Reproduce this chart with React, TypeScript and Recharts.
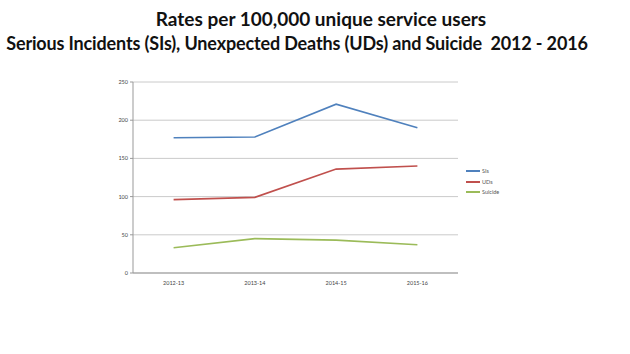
import { CartesianGrid, Line, LineChart, XAxis, YAxis } from "recharts";

const periods = ["2012-13", "2013-14", "2014-15", "2015-16"];
const sis = [177, 178, 221, 190];
const uds = [96, 99, 136, 140];
const suicide = [33, 45, 43, 37];
const yTicks = [0, 50, 100, 150, 200, 250];

const series = [
  { key: "SIs", color: "#4F81BD" },
  { key: "UDs", color: "#C0504D" },
  { key: "Suicide", color: "#9BBB59" },
];

const data = periods.map((period, i) => ({
  period,
  SIs: sis[i],
  UDs: uds[i],
  Suicide: suicide[i],
}));

function SmallLegend() {
  return (
    <div style={{ position: "absolute", left: 466, top: 166 }}>
      {series.map((s) => (
        <div key={s.key} style={{ display: "flex", alignItems: "center", height: 10.5 }}>
          <span style={{ display: "inline-block", width: 14, height: 1.6, background: s.color, marginRight: 2 }} />
          <span style={{ fontSize: 5.5, color: "#555" }}>{s.key}</span>
        </div>
      ))}
    </div>
  );
}

export default function App() {
  return (
    <div style={{ position: "fixed", left: 0, top: 0, width: 630, height: 354, background: "#fff", fontFamily: "Lato, 'Open Sans', sans-serif" }}>
      <div style={{ position: "absolute", top: 7, left: 0, width: 630, textAlign: "center", fontWeight: 700, fontSize: 18, lineHeight: "24px", color: "#111", whiteSpace: "nowrap" }}>
        <div style={{ paddingLeft: 12, fontSize: 19 }}>Rates per 100,000 unique service users</div>
        <div style={{ paddingRight: 36, letterSpacing: -0.15 }}>Serious Incidents (SIs), Unexpected Deaths (UDs) and Suicide&nbsp;&nbsp;2012 - 2016</div>
      </div>
      <div style={{ position: "absolute", left: 0, top: 0 }}>
        <LineChart width={630} height={354} data={data} margin={{ top: 82, right: 172, left: 113, bottom: 61 }}>
          <CartesianGrid vertical={false} stroke="#bdbdbd" strokeWidth={0.8} />
          <XAxis
            dataKey="period"
            height={20}
            padding={{ left: 40.6, right: 40.6 }}
            tick={{ fontSize: 5.5, fill: "#444" }}
            tickLine={false}
            axisLine={{ stroke: "#999" }}
          />
          <YAxis
            width={20}
            domain={[0, 250]}
            ticks={yTicks}
            tick={{ fontSize: 5.5, fill: "#444" }}
            tickSize={3}
            tickLine={{ stroke: "#999" }}
            axisLine={{ stroke: "#999" }}
          />
          {series.map((s) => (
            <Line key={s.key} dataKey={s.key} stroke={s.color} strokeWidth={1.6} dot={false} isAnimationActive={false} />
          ))}
        </LineChart>
      </div>
      <SmallLegend />
    </div>
  );
}
